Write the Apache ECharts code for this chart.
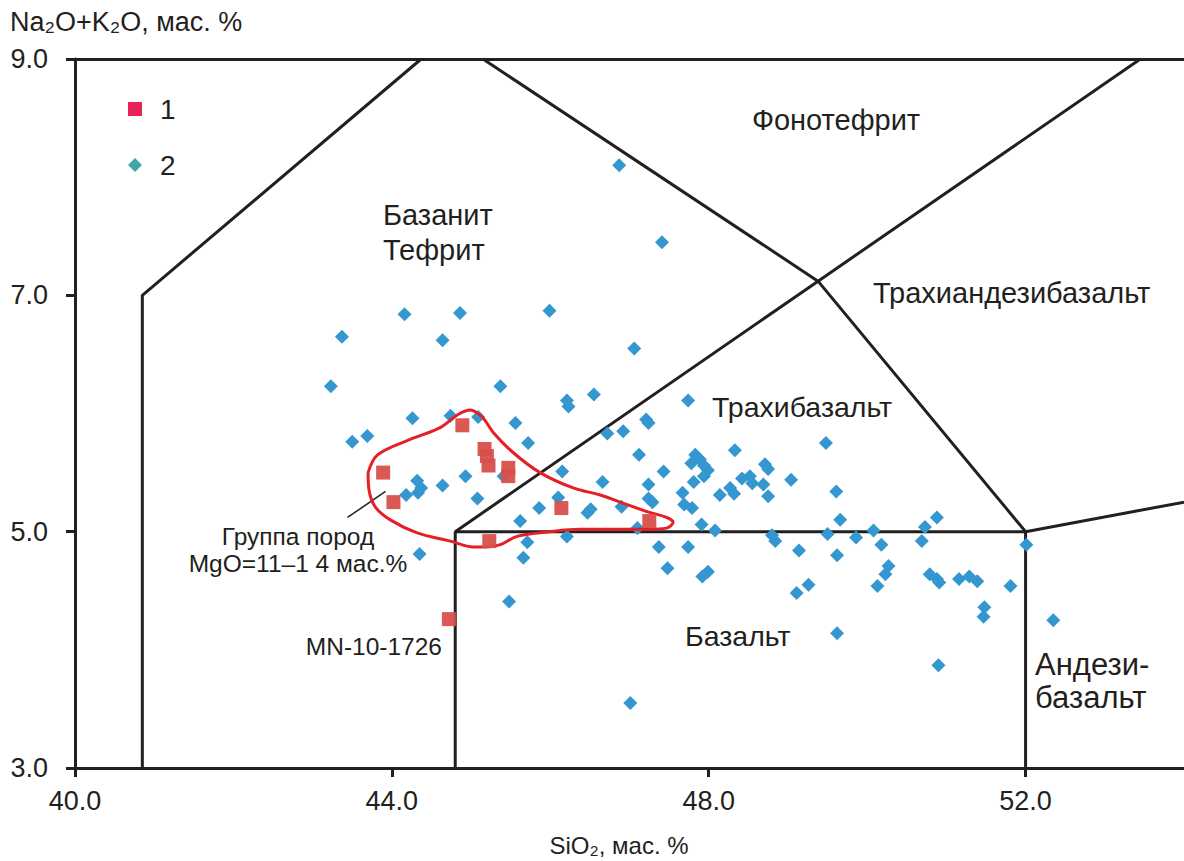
<!DOCTYPE html>
<html>
<head>
<meta charset="utf-8">
<script src="https://cdn.jsdelivr.net/npm/echarts@6/dist/echarts.min.js"></script>
<style>
html,body{margin:0;padding:0;background:#fff;}
#chart{width:1184px;height:861px;}
</style>
</head>
<body>
<div id="chart"></div>
<script>
// ---- data (SiO2, Na2O+K2O) ----
const group1 = [
  [43.89,5.50],[44.02,5.25],[44.89,5.90],[45.17,5.70],[45.20,5.64],[45.22,5.56],
  [45.47,5.54],[45.47,5.47],[46.14,5.20],[47.25,5.09],[45.23,4.92],[44.72,4.26]
];
const group2 = [
  [46.87,8.10],[47.41,7.45],[44.16,6.84],[44.86,6.85],[45.99,6.87],[43.37,6.65],
  [44.64,6.62],[47.06,6.55],[43.23,6.23],[45.37,6.23],[46.55,6.16],[46.21,6.11],
  [46.23,6.06],[47.74,6.11],[44.26,5.96],[44.74,5.98],[45.09,5.97],[45.56,5.92],
  [47.21,5.95],[47.24,5.92],[43.50,5.76],[43.69,5.81],[45.72,5.75],[46.72,5.83],
  [46.92,5.85],[47.12,5.65],[48.33,5.69],[49.48,5.75],[44.32,5.43],[44.37,5.37],
  [44.33,5.33],[44.18,5.31],[44.64,5.39],[44.93,5.47],[45.08,5.28],[45.41,5.47],
  [46.15,5.51],[46.10,5.29],[45.86,5.20],[45.62,5.09],[45.71,4.91],[45.66,4.78],
  [46.21,4.96],[44.35,4.81],[45.48,4.41],[46.66,5.42],[47.43,5.51],[47.24,5.40],
  [47.83,5.65],[47.89,5.61],[47.78,5.58],[47.94,5.56],[47.99,5.52],[47.94,5.47],
  [47.81,5.42],[47.67,5.33],[47.69,5.23],[47.79,5.20],[46.90,5.21],[46.47,5.16],
  [46.51,5.19],[47.24,5.28],[47.29,5.25],[47.10,5.03],[47.37,4.87],[47.74,4.87],
  [47.48,4.69],[47.91,5.06],[48.08,5.01],[48.14,5.31],[48.27,5.37],[48.32,5.32],
  [48.42,5.45],[48.52,5.47],[48.55,5.41],[48.71,5.57],[48.75,5.53],[48.69,5.40],
  [48.75,5.30],[49.04,5.44],[48.80,4.97],[48.84,4.92],[49.14,4.84],[47.92,4.62],
  [47.99,4.66],[49.11,4.48],[49.26,4.55],[49.61,5.34],[49.66,5.10],[49.50,4.98],
  [49.86,4.95],[50.08,5.01],[50.18,4.89],[49.62,4.80],[50.27,4.71],[50.23,4.64],
  [50.13,4.54],[49.62,4.14],[50.73,5.04],[50.88,5.12],[50.69,4.92],[50.79,4.64],
  [50.88,4.60],[50.91,4.57],[51.16,4.60],[51.29,4.62],[51.39,4.58],[51.81,4.54],
  [51.48,4.36],[51.47,4.28],[52.01,4.89],[52.35,4.25],[50.90,3.87],[47.01,3.55]
];
// field boundaries
const boundaryA = [[40.85,3.0],[40.85,7.0],[44.37,9.0]];
const boundaryB = [[45.15,9.0],[49.38,7.12],[52.0,5.0],[52.0,3.0]];
const boundaryC = [[44.80,3.0],[44.80,5.0],[52.0,5.0]];
const boundaryD = [[44.80,5.0],[49.38,7.12],[53.45,9.0]];
const boundaryE = [[52.0,5.0],[54.0,5.25]];
// outline of group MgO = 11-14 wt.%
const envelope = [
  [43.70,5.50],[43.82,5.65],[44.23,5.78],[44.61,5.88],[44.83,5.99],[44.99,6.03],
  [45.14,5.97],[45.28,5.84],[45.53,5.67],[45.87,5.50],[46.29,5.37],[46.63,5.31],
  [46.88,5.25],[47.22,5.17],[47.47,5.12],[47.55,5.08],[47.47,5.03],[47.22,5.02],
  [46.80,5.02],[46.38,5.02],[46.00,5.00],[45.58,4.96],[45.37,4.89],[45.20,4.87],
  [45.03,4.87],[44.74,4.92],[44.32,4.99],[43.98,5.10],[43.79,5.21],[43.71,5.36],
  [43.70,5.50]
];
const leader = [[43.92,5.34],[43.44,5.12]];
const xTicks = [40, 44, 48, 52];
const yTicks = [3, 5, 7, 9];

const FONT = '"Liberation Sans", Arial, Helvetica, "DejaVu Sans", sans-serif';
const INK = '#231f20';

function bLine(data) {
  return {
    type: 'line', data: data, showSymbol: false, symbol: 'none', clip: false,
    lineStyle: { color: INK, width: 3 }, silent: true, legendHoverLink: false, z: 1
  };
}
function txt(text, x, y, size, align, lineHeight) {
  const st = {
    text: text, fontSize: size, fontFamily: FONT, fill: INK,
    textAlign: align || 'left', textVerticalAlign: 'middle',
    align: align || 'left', verticalAlign: 'middle'
  };
  if (lineHeight) st.lineHeight = lineHeight;
  return { type: 'text', x: x, y: y, silent: true, style: st };
}

const chart = echarts.init(document.getElementById('chart'), null, { renderer: 'svg' });
chart.setOption({
  animation: false,
  backgroundColor: '#fff',
  grid: { left: 75, top: 59, right: 0, bottom: 93, containLabel: false },
  legend: {
    orient: 'vertical', left: 123, top: 88,
    itemWidth: 14, itemHeight: 14, itemGap: 24,
    textStyle: { fontSize: 28, fontFamily: FONT, color: INK, lineHeight: 32, padding: [0, 0, 0, 13] },
    data: [
      { name: '1', icon: 'rect', itemStyle: { color: '#e8174f' } },
      { name: '2', icon: 'diamond', itemStyle: { color: '#41a6a8' } }
    ],
    selectedMode: false
  },
  xAxis: [{
    type: 'value', min: 40, max: 54, interval: 4, position: 'bottom',
    splitLine: { show: false },
    axisLine: { onZero: false, lineStyle: { color: INK, width: 3 } },
    axisTick: { length: 9, customValues: xTicks, lineStyle: { color: INK, width: 3 } },
    axisLabel: {
      customValues: xTicks, margin: 19, fontSize: 27, fontFamily: FONT, color: INK,
      formatter: function (v) { return v >= 54 ? '' : v.toFixed(1); }
    }
  }, {
    type: 'value', min: 40, max: 54, position: 'top',
    splitLine: { show: false },
    axisLine: { onZero: false, lineStyle: { color: INK, width: 3 } },
    axisTick: { show: false }, axisLabel: { show: false }
  }],
  yAxis: {
    type: 'value', min: 3, max: 9, interval: 2,
    splitLine: { show: false },
    axisLine: { onZero: false, lineStyle: { color: INK, width: 3 } },
    axisTick: { length: 9, customValues: yTicks, lineStyle: { color: INK, width: 3 } },
    axisLabel: {
      customValues: yTicks, margin: 27, fontSize: 27, fontFamily: FONT, color: INK,
      formatter: function (v) { return v.toFixed(1); }
    }
  },
  graphic: [
    txt('Na₂O+K₂O, мас. %', 10, 22, 27, 'left'),
    txt('SiO₂, мас. %', 619, 845, 24, 'center'),
    txt('Фонотефрит', 836, 120, 29, 'center'),
    txt('Базанит\nТефрит', 383, 232, 29, 'left', 35),
    txt('Трахиандезибазальт', 873, 293, 29),
    txt('Трахибазальт', 712, 407, 28.5),
    txt('Базальт', 685, 636, 28.5),
    txt('Андези-\nбазальт', 1035, 681, 31, 'left', 33),
    txt('Группа пород\nMgO=11–1 4 мас.%', 298, 550, 24.5, 'center', 27),
    txt('MN-10-1726', 442, 646, 24.5, 'right')
  ],
  series: [
    bLine(boundaryA), bLine(boundaryB), bLine(boundaryC), bLine(boundaryD), bLine(boundaryE),
    {
      type: 'line', data: leader, showSymbol: false, symbol: 'none', silent: true,
      lineStyle: { color: INK, width: 1.5 }, z: 1
    },
    {
      name: '2', type: 'scatter', data: group2, symbol: 'diamond', symbolSize: 14,
      itemStyle: { color: '#3597d0', opacity: 1 }, z: 2
    },
    {
      type: 'line', data: envelope, smooth: 0.35, showSymbol: false, symbol: 'none', silent: true,
      lineStyle: { color: '#e41f26', width: 3 }, z: 3
    },
    {
      name: '1', type: 'scatter', data: group1, symbol: 'rect', symbolSize: 14,
      itemStyle: { color: '#d84f4c', opacity: 0.95 }, z: 4
    }
  ]
});
</script>
</body>
</html>
